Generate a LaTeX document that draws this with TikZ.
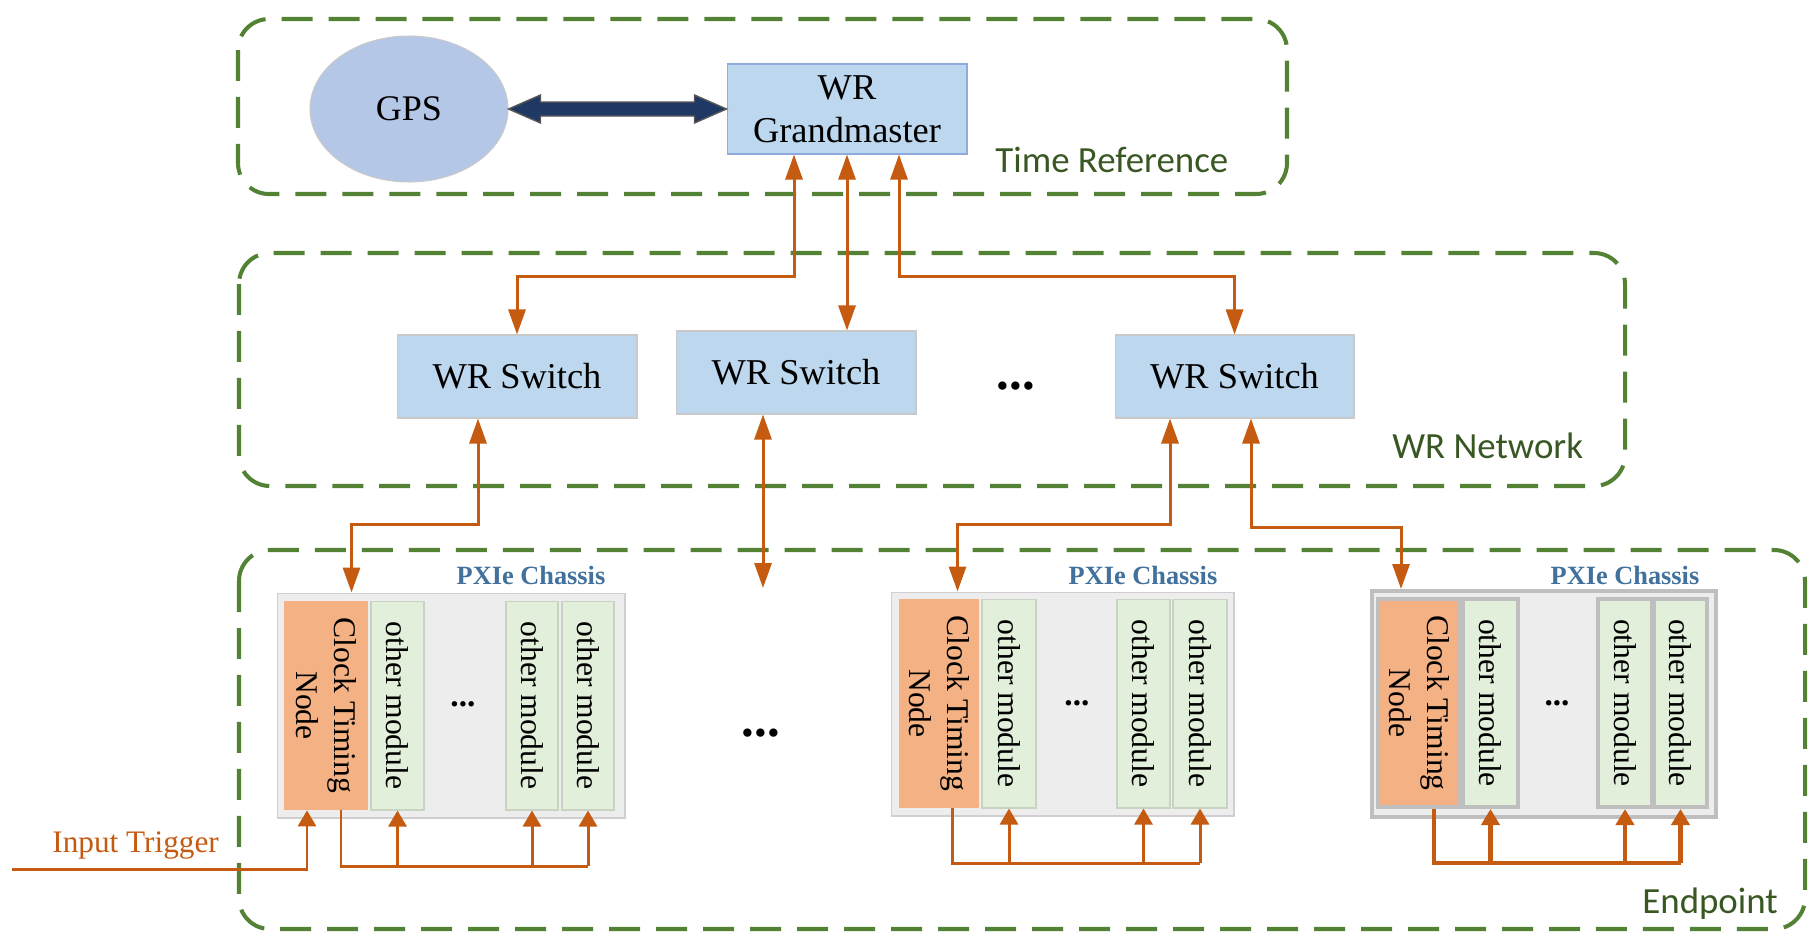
\documentclass[tikz,border=0pt]{standalone}
\usepackage{fontspec}
\setmainfont{Liberation Serif}
\newfontfamily\zonefont{Carlito}
\usepackage{tikz}
\usetikzlibrary{calc}
\usetikzlibrary{shapes.geometric}
\usetikzlibrary{arrows.meta}

\begin{document}
\begin{tikzpicture}[x=0.02cm, y=-0.02cm,
  >={Triangle[width=0.34cm,length=0.5cm]},
  zone/.style={draw=r84g130b53, line width=2.3pt, dash pattern=on 0.62cm off 0.32cm, rounded corners=0.62cm},
  zonelabel/.style={anchor=base west, inner sep=0pt, text=r56g87b35, font=\zonefont\fontsize{21}{25}\selectfont},
  wrbox/.style={draw=r201g201b201, fill=r189g215b238, line width=0.6pt, inner sep=0pt, align=center, font=\fontsize{20.7}{24.5}\selectfont},
  link/.style={draw=r197g90b17, line width=1.7pt, <->},
  wire/.style={draw=r197g90b17, line width=1.7pt},
  feed/.style={draw=r197g90b17, line width=1.7pt, -{Triangle[width=0.36cm,length=0.32cm]}},
  chassis/.style={draw=r208g206b206, fill=r237g237b237, line width=0.6pt, inner sep=0pt, minimum height=4.5cm},
  ctn/.style={fill=r244g177b131, inner sep=0pt, minimum height=4.18cm},
  module/.style={draw=r201g211b196, fill=r226g239b218, line width=0.6pt, inner sep=0pt, minimum height=4.18cm},
  modtext/.style={rotate=-90, align=center, font=\fontsize{18}{21.6}\selectfont},
  pxie/.style={anchor=base, inner sep=0pt, text=r65g113b156, font=\bfseries\fontsize{15}{18}\selectfont},
  gap/.style={inner sep=0pt, font=\bfseries\fontsize{29}{30}\selectfont},
  smallgap/.style={inner sep=0pt, font=\bfseries\fontsize{19}{20}\selectfont},
  heavy/.style={draw=r191g191b191, line width=2.3pt}]

% Changing colors
\definecolor{r84g130b53}{rgb}{0.329412,0.509804,0.207843}%
\definecolor{r56g87b35}{rgb}{0.219608,0.341176,0.137255}%
\definecolor{r197g90b17}{rgb}{0.772549,0.352941,0.066667}%
\definecolor{r189g215b238}{rgb}{0.741176,0.843137,0.933333}%
\definecolor{r143g170b220}{rgb}{0.560784,0.666667,0.862745}%
\definecolor{r201g201b201}{rgb}{0.788235,0.788235,0.788235}%
\definecolor{r180g199b231}{rgb}{0.705882,0.780392,0.905882}%
\definecolor{r32g56b100}{rgb}{0.125490,0.219608,0.392157}%
\definecolor{r89g89b89}{rgb}{0.349020,0.349020,0.349020}%
\definecolor{r244g177b131}{rgb}{0.956863,0.694118,0.513725}%
\definecolor{r226g239b218}{rgb}{0.886275,0.937255,0.854902}%
\definecolor{r201g211b196}{rgb}{0.788235,0.827451,0.768627}%
\definecolor{r237g237b237}{rgb}{0.929412,0.929412,0.929412}%
\definecolor{r208g206b206}{rgb}{0.815686,0.807843,0.807843}%
\definecolor{r191g191b191}{rgb}{0.749020,0.749020,0.749020}%
\definecolor{r65g113b156}{rgb}{0.254902,0.443137,0.611765}%

\useasboundingbox (0,0) rectangle (1808,931);

% Drawing zones
\draw [zone] (238,19) rectangle (1287,194);%
\draw [zone] (239,253) rectangle (1625,486);%
\draw [zone] (239,550) rectangle (1805,929);%
\node [zonelabel] (treflabel) at (995,172) {Time Reference};%
\node [zonelabel] (netlabel) at (1392,458) {WR Network};%
\node [zonelabel] (endlabel) at (1642,913) {Endpoint};%

% Time reference
\node [ellipse, draw=r201g201b201, fill=r180g199b231, line width=0.6pt, minimum width=3.96cm, minimum height=2.92cm, font=\fontsize{20.5}{24}\selectfont] (gps) at (409,109) {GPS};%
\node [wrbox, draw=r143g170b220, minimum width=4.8cm, minimum height=1.8cm] (gm) at (847,109) {WR\\Grandmaster};%
\draw [draw=r89g89b89, fill=r32g56b100, line width=0.8pt] (gps.east) -- ++(32,-14) -- ++(0,7) -- ($(gm.west)+(-32,-7)$) -- ++(0,-7) -- (gm.west) -- ++(-32,14) -- ++(0,-7) -- ($(gps.east)+(32,7)$) -- ++(0,7) -- cycle;%

% WR network
\node [wrbox, minimum width=4.8cm, minimum height=1.66cm] (sw1) at (517,376.5) {WR Switch};%
\node [wrbox, minimum width=4.8cm, minimum height=1.66cm] (sw2) at (796,372.5) {WR Switch};%
\node [wrbox, minimum width=4.78cm, minimum height=1.66cm] (sw3) at (1234.5,376.5) {WR Switch};%
\node [gap] (swgap) at (1016,386) {...};%

% Drawing segment grandmaster switches
\draw [link] ($(gm.south)+(-53,0)$) -- ++(0,122) -| (sw1.north);%
\draw [link] (gm.south) -- (gm.south |- sw2.north);%
\draw [link] ($(gm.south)+(52,0)$) -- ++(0,122) -| (sw3.north);%

% Chassis 1
\node [chassis, minimum width=6.96cm] (ch1) at (451,705.5) {};%
\node [ctn, minimum width=1.68cm, label={[modtext]center:Clock Timing\\Node}] (ctn1) at (326,705.5) {};%
\node [module, minimum width=1.06cm, label={[modtext]center:other module}] (m11) at (397.5,705.5) {};%
\node [module, minimum width=1.04cm, label={[modtext]center:other module}] (m12) at (532,705.5) {};%
\node [module, minimum width=1.04cm, label={[modtext]center:other module}] (m13) at (588,705.5) {};%
\node [smallgap] (gap1) at (463,704) {...};%
\node [pxie] (pxie1) at (531,584) {PXIe Chassis};%

% Chassis 2
\node [chassis, minimum width=6.86cm, minimum height=4.48cm] (ch2) at (1062.5,704) {};%
\node [ctn, minimum width=1.6cm, label={[modtext]center:Clock Timing\\Node}] (ctn2) at (939,703.5) {};%
\node [module, minimum width=1.08cm, label={[modtext]center:other module}] (m21) at (1009,703.5) {};%
\node [module, minimum width=1.06cm, label={[modtext]center:other module}] (m22) at (1143.5,703.5) {};%
\node [module, minimum width=1.08cm, label={[modtext]center:other module}] (m23) at (1200,703.5) {};%
\node [smallgap] (gap2) at (1077,703) {...};%
\node [pxie] (pxie2) at (1143,584) {PXIe Chassis};%

% Chassis 3
\node [chassis, heavy, minimum width=6.88cm, minimum height=4.52cm] (ch3) at (1544,704) {};%
\node [ctn, heavy, minimum width=1.64cm, minimum height=4.16cm, label={[modtext]center:Clock Timing\\Node}] (ctn3) at (1419,703) {};%
\node [module, heavy, minimum width=1.1cm, minimum height=4.16cm, label={[modtext]center:other module}] (m31) at (1490.5,703) {};%
\node [module, heavy, minimum width=1.08cm, minimum height=4.16cm, label={[modtext]center:other module}] (m32) at (1625,703) {};%
\node [module, heavy, minimum width=1.06cm, minimum height=4.16cm, label={[modtext]center:other module}] (m33) at (1680.5,703) {};%
\node [smallgap] (gap3) at (1557,703) {...};%
\node [pxie] (pxie3) at (1625,584) {PXIe Chassis};%

\node [gap] (chgap) at (761,733) {...};%

% Drawing segment switches chassis
\coordinate (open2) at (763,588);%
\draw [link] ($(sw1.south)+(-39,0)$) -- ++(0,106) -| ($(ch1.north west)+(75,0)$);%
\draw [link] ($(sw2.south)+(-33,0)$) -- (open2);%
\draw [link] ($(sw3.south)+(-64.5,0)$) -- ++(0,106) -| ($(ch2.north west)+(67,0)$);%
\draw [link] ($(sw3.south)+(16.5,0)$) -- ++(0,109) -| ($(ch3.north west)+(31,0)$);%

% Drawing bus chassis 1
\coordinate (bus1) at (341,866);%
\draw [wire] (ctn1.south -| bus1) -- (bus1) -- (bus1 -| m13.south);%
\draw [feed] (bus1 -| m11.south) -- (m11.south);%
\draw [feed] (bus1 -| m12.south) -- (m12.south);%
\draw [feed] (bus1 -| m13.south) -- (m13.south);%
\coordinate (trig) at (12,869);%
\draw [feed] (trig) -| ($(ctn1.south)+(-19,0)$);%
\node [anchor=base west, inner sep=0pt, text=r197g90b17, font=\fontsize{17.8}{20}\selectfont] (triglabel) at (52,852) {Input Trigger};%

% Drawing bus chassis 2
\coordinate (bus2) at (952,863);%
\draw [wire] (ctn2.south -| bus2) -- (bus2) -- (bus2 -| m23.south);%
\draw [feed] (bus2 -| m21.south) -- (m21.south);%
\draw [feed] (bus2 -| m22.south) -- (m22.south);%
\draw [feed] (bus2 -| m23.south) -- (m23.south);%

% Drawing bus chassis 3
\coordinate (bus3) at (1434,863);%
\draw [wire, line width=2.6pt] (ctn3.south -| bus3) -- (bus3) -- (bus3 -| m33.south);%
\draw [feed, line width=2.6pt] (bus3 -| m31.south) -- (m31.south);%
\draw [feed, line width=2.6pt] (bus3 -| m32.south) -- (m32.south);%
\draw [feed, line width=2.6pt] (bus3 -| m33.south) -- (m33.south);%
\end{tikzpicture}
\end{document}
